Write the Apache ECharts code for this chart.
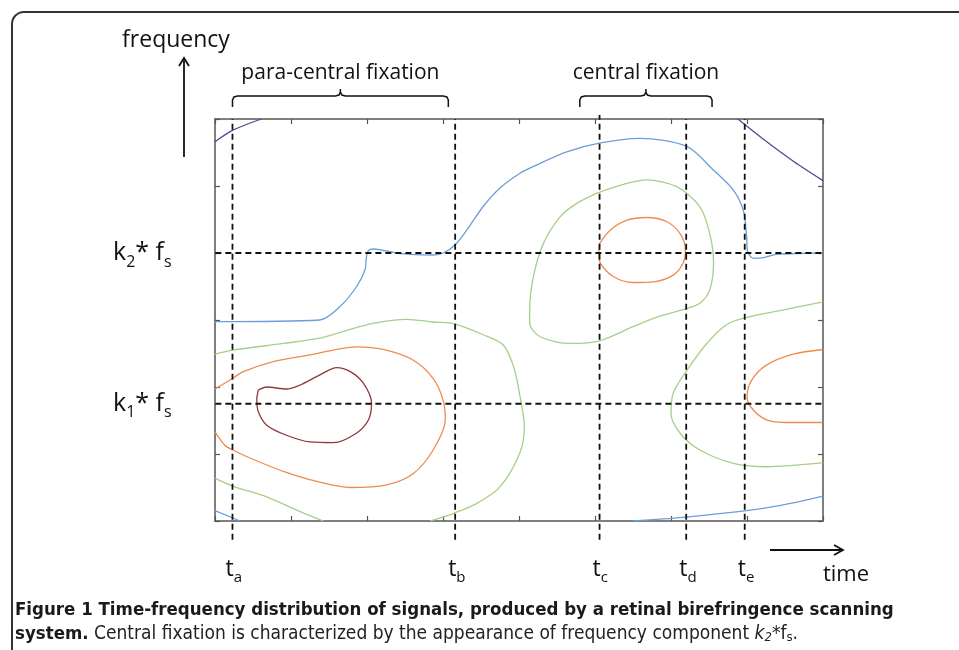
<!DOCTYPE html>
<html>
<head>
<meta charset="utf-8">
<script src="https://cdn.jsdelivr.net/npm/echarts@6/dist/echarts.min.js"></script>
<style>
  html, body { margin: 0; padding: 0; background: #fff; }
  #box { width: 959px; height: 650px; }
</style>
</head>
<body>
<div id="box"></div>
<script>
// time marks on x (time units, grid 0..8) and frequency levels on y (0..6)
let timeNames = ["a", "b", "c", "d", "e"];
let timeValues = [0.23, 3.16, 5.06, 6.2, 6.97];
let freqNames = ["2", "1"];
let freqValues = [4.0, 1.75];

// fixation spans shown with braces above the plot
let fixationNames = ["para-central fixation", "central fixation"];
let fixationStart = [0.23, 4.8];
let fixationEnd = [3.07, 6.54];

// contour lines, [time, frequency]
let purpleLeft = [[0, 5.66], [0.23, 5.83], [0.61, 6.0]];
let purpleRight = [[6.88, 6.0], [7.26, 5.66], [7.61, 5.37], [8.0, 5.08]];
let blueMain = [
  [0, 2.975], [1.38, 3.0], [1.645, 3.2], [1.864, 3.5], [1.974, 3.75], [1.99, 3.92],
  [2.02, 4.04], [2.083, 4.06], [2.434, 3.99], [2.872, 3.97], [3.004, 4.0], [3.158, 4.12],
  [3.312, 4.34], [3.526, 4.69], [3.75, 4.97], [4.013, 5.19], [4.184, 5.29], [4.628, 5.51],
  [5.057, 5.64], [5.592, 5.71], [6.207, 5.59], [6.557, 5.24], [6.82, 4.94], [6.951, 4.64],
  [6.996, 4.24], [7.004, 4.04], [7.083, 3.92], [7.214, 3.93], [7.391, 3.98], [8.0, 4.0]
];
let blueLow = [[0, 0.154], [0.33, 0]];
let blueLowRight = [[5.5, 0], [6.16, 0.055], [6.97, 0.15], [7.48, 0.24], [8.0, 0.37]];
let greenLeft = [
  [0, 2.49], [0.233, 2.55], [0.899, 2.65], [1.38, 2.73], [1.69, 2.83], [2.08, 2.95],
  [2.52, 3.01], [2.87, 2.97], [3.16, 2.94], [3.53, 2.78], [3.79, 2.63], [3.93, 2.3],
  [4.01, 1.88], [4.07, 1.41], [4.01, 1.01], [3.75, 0.51], [3.44, 0.26], [3.14, 0.115], [2.83, 0]
];
let greenLow = [[0, 0.64], [0.233, 0.52], [0.68, 0.36], [1.12, 0.14], [1.425, 0]];
let orangeLeft = [
  [0, 1.97], [0.233, 2.13], [0.372, 2.23], [0.767, 2.38], [1.25, 2.48], [1.557, 2.55],
  [1.864, 2.6], [2.214, 2.56], [2.61, 2.4], [2.87, 2.13], [3.0, 1.81], [3.03, 1.51],
  [2.87, 1.06], [2.61, 0.71], [2.26, 0.54], [1.78, 0.5], [1.34, 0.59], [0.9, 0.74],
  [0.46, 0.94], [0.233, 1.06], [0.13, 1.13], [0, 1.33]
];
let redLoop = [
  [0.57, 1.955], [0.68, 2.0], [0.94, 1.97], [1.12, 2.03], [1.38, 2.18], [1.6, 2.29],
  [1.78, 2.23], [1.95, 2.06], [2.06, 1.76], [2.02, 1.51], [1.86, 1.31], [1.56, 1.17],
  [1.25, 1.18], [0.94, 1.28], [0.68, 1.43], [0.57, 1.63], [0.55, 1.81], [0.57, 1.955]
];
let greenCenter = [
  [5.02, 4.89], [5.68, 5.09], [6.075, 4.99], [6.38, 4.69], [6.51, 4.29], [6.56, 3.85],
  [6.51, 3.45], [6.38, 3.25], [6.2, 3.17], [5.86, 3.06], [5.5, 2.9], [5.06, 2.69],
  [4.67, 2.65], [4.28, 2.75], [4.14, 2.95], [4.14, 3.15], [4.19, 3.65], [4.32, 4.14],
  [4.54, 4.54], [4.76, 4.74], [5.02, 4.89]
];
let orangeCenter = [
  [5.06, 4.14], [5.2, 4.34], [5.42, 4.49], [5.68, 4.53], [5.94, 4.47], [6.12, 4.29],
  [6.19, 4.04], [6.16, 3.85], [6.03, 3.67], [5.77, 3.57], [5.5, 3.56], [5.24, 3.65],
  [5.07, 3.85], [5.05, 4.0], [5.06, 4.14]
];
let greenRight = [
  [8.0, 3.27], [7.48, 3.15], [6.97, 3.03], [6.73, 2.93], [6.47, 2.65], [6.21, 2.25],
  [6.03, 1.91], [6.0, 1.61], [6.12, 1.31], [6.38, 1.06], [6.82, 0.86], [7.26, 0.81], [8.0, 0.87]
];
let orangeRight = [
  [8.0, 2.56], [7.61, 2.49], [7.26, 2.33], [7.06, 2.1], [7.0, 1.85], [7.08, 1.66],
  [7.26, 1.51], [7.52, 1.47], [8.0, 1.47]
];

let colors = {
  purple: "#4f4a97",
  blue: "#6a9fd8",
  green: "#a6cf88",
  orange: "#f08a4e",
  red: "#8e3a3a"
};

let contours = [
  [purpleLeft, colors.purple], [purpleRight, colors.purple],
  [blueMain, colors.blue], [blueLow, colors.blue], [blueLowRight, colors.blue],
  [greenLeft, colors.green], [greenLow, colors.green], [greenCenter, colors.green], [greenRight, colors.green],
  [orangeLeft, colors.orange], [orangeCenter, colors.orange], [orangeRight, colors.orange],
  [redLoop, colors.red]
];

let font = '"Open Sans", "Noto Sans", sans-serif';
let capFont = '"Liberation Sans Narrow", "DejaVu Sans Condensed", "Roboto", sans-serif';

let chart = echarts.init(document.getElementById("box"), null, { renderer: "canvas" });

function axis(pos, max) {
  return {
    type: "value", position: pos, min: 0, max: max, interval: 1,
    axisLine: { show: true, onZero: false, lineStyle: { color: "#555", width: 1.5 } },
    axisTick: { show: true, inside: true, length: 5, lineStyle: { color: "#555", width: 1.2 } },
    axisLabel: { show: false },
    splitLine: { show: false }
  };
}

let series = [];
contours.forEach(c => {
  series.push({
    type: "line", xAxisIndex: 0, yAxisIndex: 0, data: c[0], showSymbol: false, smooth: 0.3,
    silent: true, lineStyle: { color: c[1], width: 1.3 }
  });
});
let dash = { color: "#111", width: 1.8, type: [6, 4] };
timeValues.forEach((t, i) => {
  series.push({
    type: "line", data: [[t, -0.28], [t, i === 2 ? 6.06 : 6.0]], showSymbol: false,
    clip: false, silent: true, lineStyle: dash, z: 5
  });
});
freqValues.forEach(f => {
  series.push({
    type: "line", data: [[-0.39, f], [8.07, f]], showSymbol: false,
    clip: false, silent: true, lineStyle: dash, z: 5
  });
});

chart.setOption({
  animation: false,
  grid: { left: 215, top: 119, width: 608, height: 402 },
  xAxis: [axis("bottom", 8), axis("top", 8)],
  yAxis: [axis("left", 6), axis("right", 6)],
  series: series
});

function px(x, y) {
  return chart.convertToPixel({ gridIndex: 0 }, [x, y]);
}

let graphic = [];
let ctx = document.createElement("canvas").getContext("2d");
// lay out text runs one after another (for subscripts)
function runs(list, x, y, align) {
  let widths = list.map(r => { ctx.font = r.font; return ctx.measureText(r.text).width; });
  let total = widths.reduce((a, b) => a + b, 0);
  let cx = align === "center" ? x - total / 2 : x;
  list.forEach((r, i) => {
    graphic.push({
      type: "text", x: cx, y: y + (r.dy || 0),
      style: { text: r.text, font: r.font, fill: r.color || "#111", verticalAlign: "middle" }
    });
    cx += widths[i];
  });
}

// figure frame
graphic.push({
  type: "rect", shape: { x: 12, y: 12, width: 980, height: 680, r: 12 },
  style: { fill: "none", stroke: "#333", lineWidth: 2 }
});
// axis names with arrows
graphic.push({ type: "text", x: 176, y: 40, style: { text: "frequency", font: "23px " + font, fill: "#111", align: "center", verticalAlign: "middle" } });
graphic.push({ type: "line", shape: { x1: 184, y1: 157, x2: 184, y2: 59 }, style: { stroke: "#111", lineWidth: 1.8 } });
graphic.push({ type: "polyline", shape: { points: [[179, 66], [184, 58], [189, 66]] }, style: { stroke: "#111", lineWidth: 1.8, fill: "none" } });
graphic.push({ type: "line", shape: { x1: 770, y1: 550, x2: 842, y2: 550 }, style: { stroke: "#111", lineWidth: 1.8 } });
graphic.push({ type: "polyline", shape: { points: [[834, 545], [843, 550], [834, 555]] }, style: { stroke: "#111", lineWidth: 1.8, fill: "none" } });
graphic.push({ type: "text", x: 846, y: 575, style: { text: "time", font: "22px " + font, fill: "#111", align: "center", verticalAlign: "middle" } });

// time labels
let big = "23px " + font, small = "15px " + font;
timeNames.forEach((n, i) => {
  let p = px(timeValues[i], 0);
  runs([{ text: "t", font: big }, { text: n, font: small, dy: 9 }], p[0] - 7, 569, "left");
});
// frequency labels
let bigK = "25px " + font, smallK = "16px " + font;
freqNames.forEach((n, i) => {
  let p = px(0, freqValues[i]);
  runs([
    { text: "k", font: bigK }, { text: n, font: smallK, dy: 9 },
    { text: "* f", font: bigK }, { text: "s", font: smallK, dy: 9 }
  ], 113, p[1], "left");
});
// fixation braces
fixationNames.forEach((n, i) => {
  let a = px(fixationStart[i], 6)[0], b = px(fixationEnd[i], 6)[0], m = (a + b) / 2;
  let yb = 107, yh = 96, yt = 89;
  graphic.push({
    type: "polyline",
    shape: { points: [[a, yb], [a, yh + 4], [a + 1.5, yh + 1], [a + 5, yh], [m - 5, yh], [m - 1.5, yh - 1], [m, yh - 4], [m, yt],
      [m, yh - 4], [m + 1.5, yh - 1], [m + 5, yh], [b - 5, yh], [b - 1.5, yh + 1], [b, yh + 4], [b, yb]] },
    style: { stroke: "#111", lineWidth: 1.5, fill: "none" }
  });
  graphic.push({ type: "text", x: m, y: 73, style: { text: n, font: "21px " + font, fill: "#111", align: "center", verticalAlign: "middle" } });
});

// caption
let capB = "bold 18.5px " + capFont, capR = "19px " + capFont, capI = "italic 19px " + capFont;
let capS = "13px " + capFont, capSI = "italic 13px " + capFont;
runs([{ text: "Figure 1 Time-frequency distribution of signals, produced by a retinal birefringence scanning", font: capB, color: "#1a1a1a" }], 15, 610, "left");
runs([
  { text: "system.", font: capB, color: "#1a1a1a" },
  { text: " Central fixation is characterized by the appearance of frequency component ", font: capR, color: "#222" },
  { text: "k", font: capI, color: "#222" }, { text: "2", font: capSI, color: "#222", dy: 4 },
  { text: "*f", font: capR, color: "#222" }, { text: "s", font: capS, color: "#222", dy: 4 },
  { text: ".", font: capR, color: "#222" }
], 15, 634, "left");

chart.setOption({ graphic: graphic });
</script>
</body>
</html>
